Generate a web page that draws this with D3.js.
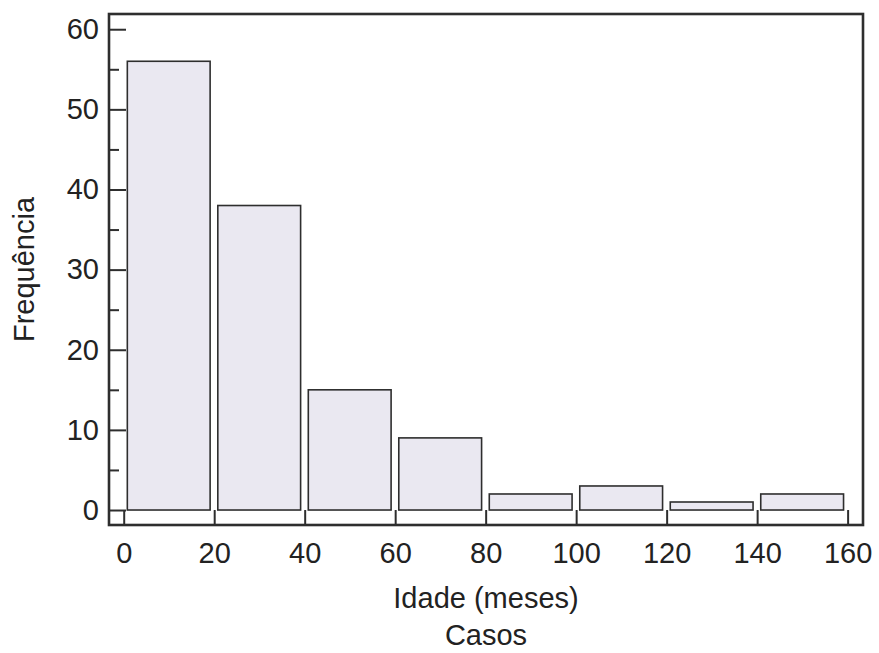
<!DOCTYPE html>
<html>
<head>
<meta charset="utf-8">
<script src="https://cdn.jsdelivr.net/npm/d3@7"></script>
<style>
  html, body { margin: 0; padding: 0; background: #ffffff; }
  svg { display: block; }
  text { font-family: "Liberation Sans", Arial, sans-serif; fill: #222; }
</style>
</head>
<body>
<svg id="chart" width="879" height="653"></svg>
<script>
// Age bins (months) and case counts
const binStarts = [0, 20, 40, 60, 80, 100, 120, 140];
const binWidth = 20;
const counts = [56, 38, 15, 9, 2, 3, 1, 2];
const xTicks = [0, 20, 40, 60, 80, 100, 120, 140, 160];
const yTicks = [0, 10, 20, 30, 40, 50, 60];
const yMinorTicks = [5, 15, 25, 35, 45, 55];
const xTitle = "Idade (meses)";
const subTitle = "Casos";
const yTitle = "Frequência";

const svg = d3.select("#chart");
const ink = "#2e2e2e";

const x = d3.scaleLinear().domain([-3.25, 163.4]).range([109, 863]);
const y = d3.scaleLinear().domain([-1.87, 61.9]).range([525, 14]);

const [x0, x1] = x.range();
const [yb, yt] = y.range();

// Histogram bars, slightly inset inside each bin
const bins = binStarts.map((s, i) => ({ lo: s, hi: s + binWidth, n: counts[i] }));
svg.append("g")
  .selectAll("rect")
  .data(bins)
  .join("rect")
  .attr("x", d => x(d.lo + 0.8))
  .attr("width", d => x(d.hi - 0.9) - x(d.lo + 0.8))
  .attr("y", d => y(d.n))
  .attr("height", d => y(0) - y(d.n))
  .attr("fill", "#eae8f1")
  .attr("stroke", ink)
  .attr("stroke-width", 1.6);

// Left axis: major ticks pointing inward with labels
const yAxis = svg.append("g")
  .attr("transform", `translate(${x0},0)`)
  .call(d3.axisLeft(y).tickValues(yTicks).tickSizeInner(-17).tickSizeOuter(0).tickPadding(10));
yAxis.select(".domain").remove();
yAxis.selectAll(".tick line").attr("stroke", ink).attr("stroke-width", 2);
yAxis.selectAll(".tick text").style("font-size", "29px").attr("fill", "#222");

// Left axis minor ticks
const yMinor = svg.append("g")
  .attr("transform", `translate(${x0},0)`)
  .call(d3.axisLeft(y).tickValues(yMinorTicks).tickSizeInner(-10).tickSizeOuter(0).tickFormat(""));
yMinor.select(".domain").remove();
yMinor.selectAll(".tick line").attr("stroke", ink).attr("stroke-width", 2);

// Bottom axis: ticks pointing upward
const xAxis = svg.append("g")
  .attr("transform", `translate(0,${yb})`)
  .call(d3.axisBottom(x).tickValues(xTicks).tickSizeInner(-(yb - y(0))).tickSizeOuter(0).tickPadding(17));
xAxis.select(".domain").remove();
xAxis.selectAll(".tick line").attr("stroke", ink).attr("stroke-width", 2);
xAxis.selectAll(".tick text").style("font-size", "29px").attr("fill", "#222");

// Frame around the plot area
svg.append("rect")
  .attr("x", x0).attr("y", yt)
  .attr("width", x1 - x0).attr("height", yb - yt)
  .attr("fill", "none")
  .attr("stroke", ink)
  .attr("stroke-width", 2.6);

// Titles
const cx = (x0 + x1) / 2;
svg.append("text")
  .attr("x", cx).attr("y", 608)
  .attr("text-anchor", "middle")
  .style("font-size", "29px")
  .text(xTitle);
svg.append("text")
  .attr("x", cx).attr("y", 645)
  .attr("text-anchor", "middle")
  .style("font-size", "29px")
  .text(subTitle);
svg.append("text")
  .attr("transform", `translate(34,${(yt + yb) / 2}) rotate(-90)`)
  .attr("text-anchor", "middle")
  .style("font-size", "29px")
  .text(yTitle);
</script>
</body>
</html>
